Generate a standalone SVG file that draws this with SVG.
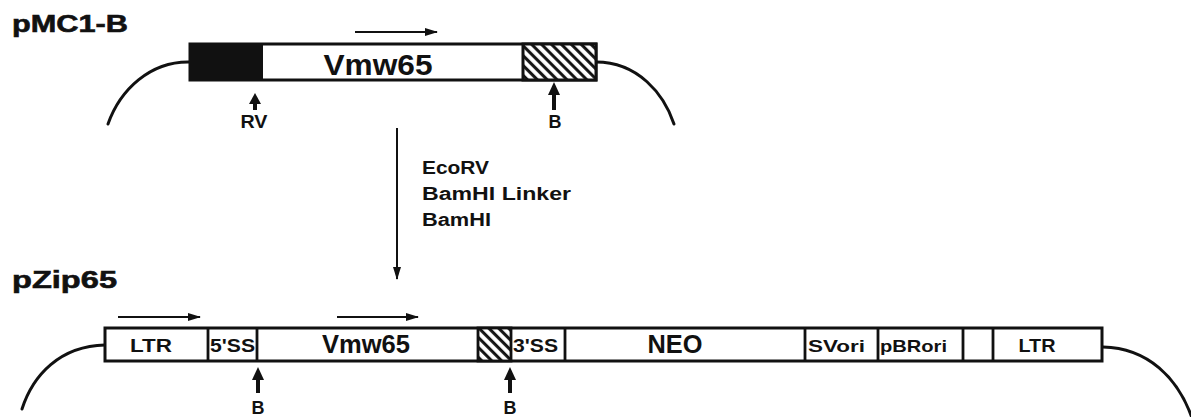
<svg xmlns="http://www.w3.org/2000/svg" width="1191" height="417" viewBox="0 0 1191 417">
<style>
text{font-family:"Liberation Sans",Arial,sans-serif;font-weight:bold;fill:#111}
.box{fill:#fff;stroke:#111;stroke-width:3}
.div{stroke:#111;stroke-width:2.8}
.curve{fill:none;stroke:#111;stroke-width:3;stroke-linecap:round}
.thin{stroke:#111;stroke-width:2;fill:none}
.site{stroke:#111;stroke-width:4}
.head{fill:#111}
</style>
<defs>
<pattern id="hatch" width="7" height="7" patternUnits="userSpaceOnUse" patternTransform="rotate(-45)">
<rect width="7" height="7" fill="#fff"/>
<line x1="1.6" y1="0" x2="1.6" y2="7" stroke="#111" stroke-width="3"/>
</pattern>
<marker id="ah" markerWidth="13" markerHeight="10" refX="12" refY="5" orient="auto" markerUnits="userSpaceOnUse">
<path d="M0,1 L13,5 L0,9 Z" fill="#111"/>
</marker>
</defs>

<g id="title-pmc1b"><text x="12" y="32" font-size="24" textLength="116" lengthAdjust="spacingAndGlyphs" stroke="#111" stroke-width="0.6">pMC1-B</text></g>
<g id="title-pzip65"><text x="12" y="288" font-size="24" textLength="105" lengthAdjust="spacingAndGlyphs" stroke="#111" stroke-width="0.6">pZip65</text></g>

<g id="pmc1b">
<path class="curve" d="M190,62 C150,61 120,90 108,124"/>
<path class="curve" d="M596,62 C638,62 664,94 674,124"/>
<rect class="box" x="190" y="44" width="406" height="36"/>
<rect x="190" y="44" width="73" height="36" fill="#111"/>
<rect x="523" y="44" width="73" height="36" fill="url(#hatch)" stroke="#111" stroke-width="3"/>
<text x="378" y="75" font-size="30" text-anchor="middle" textLength="109" lengthAdjust="spacingAndGlyphs">Vmw65</text>
</g>

<g id="site-rv">
<line class="site" x1="255" y1="110" x2="255" y2="100"/>
<path class="head" d="M249,104 L255,93 L261,104 Z"/>
<text x="254" y="128" font-size="18" text-anchor="middle" textLength="27" lengthAdjust="spacingAndGlyphs">RV</text>
</g>
<g id="site-b-top">
<line class="site" x1="554" y1="110" x2="554" y2="90"/>
<path class="head" d="M548,95 L554,82 L560,95 Z"/>
<text x="555" y="128" font-size="18" text-anchor="middle">B</text>
</g>

<g id="steps">
<text x="422" y="174" font-size="18" textLength="67" lengthAdjust="spacingAndGlyphs">EcoRV</text>
<text x="422" y="200" font-size="18" textLength="149" lengthAdjust="spacingAndGlyphs">BamHI Linker</text>
<text x="422" y="226" font-size="18" textLength="69" lengthAdjust="spacingAndGlyphs">BamHI</text>
</g>

<g id="pzip65">
<path class="curve" d="M105,345 C60,346 33,375 22,409"/>
<path class="curve" d="M1103,347 C1148,348 1178,378 1192,418"/>
<rect class="box" x="105" y="328" width="997" height="33"/>
<rect x="478" y="328" width="33" height="33" fill="url(#hatch)" stroke="#111" stroke-width="2.8"/>
<line class="div" x1="208" y1="328" x2="208" y2="361"/>
<line class="div" x1="257" y1="328" x2="257" y2="361"/>
<line class="div" x1="565" y1="328" x2="565" y2="361"/>
<line class="div" x1="805" y1="328" x2="805" y2="361"/>
<line class="div" x1="878" y1="328" x2="878" y2="361"/>
<line class="div" x1="963" y1="328" x2="963" y2="361"/>
<line class="div" x1="993" y1="328" x2="993" y2="361"/>
<text x="151" y="352" font-size="18" text-anchor="middle" textLength="42" lengthAdjust="spacingAndGlyphs">LTR</text>
<text x="210" y="352" font-size="19" textLength="45" lengthAdjust="spacingAndGlyphs">5'SS</text>
<text x="366" y="353" font-size="25" text-anchor="middle" textLength="88" lengthAdjust="spacingAndGlyphs">Vmw65</text>
<text x="513" y="352" font-size="19" textLength="45" lengthAdjust="spacingAndGlyphs">3'SS</text>
<text x="675" y="353" font-size="25" text-anchor="middle" textLength="55" lengthAdjust="spacingAndGlyphs">NEO</text>
<text x="808" y="352" font-size="17" textLength="57" lengthAdjust="spacingAndGlyphs">SVori</text>
<text x="880" y="352" font-size="17" textLength="67" lengthAdjust="spacingAndGlyphs">pBRori</text>
<text x="1037" y="352" font-size="18" text-anchor="middle" textLength="37" lengthAdjust="spacingAndGlyphs">LTR</text>
</g>

<g id="site-b1">
<line class="site" x1="258" y1="393" x2="258" y2="376"/>
<path class="head" d="M252,380 L258,367 L264,380 Z"/>
<text x="258" y="414" font-size="18" text-anchor="middle">B</text>
</g>
<g id="site-b2">
<line class="site" x1="510" y1="393" x2="510" y2="376"/>
<path class="head" d="M504,380 L510,367 L516,380 Z"/>
<text x="510" y="414" font-size="18" text-anchor="middle">B</text>
</g>

<g id="connectors">
<line class="thin" x1="355" y1="32" x2="437" y2="32" marker-end="url(#ah)"/>
<line class="thin" x1="118" y1="317" x2="200" y2="317" marker-end="url(#ah)"/>
<line class="thin" x1="337" y1="317" x2="418" y2="317" marker-end="url(#ah)"/>
<line class="thin" x1="397" y1="128" x2="397" y2="279" marker-end="url(#ah)"/>
</g>
</svg>
